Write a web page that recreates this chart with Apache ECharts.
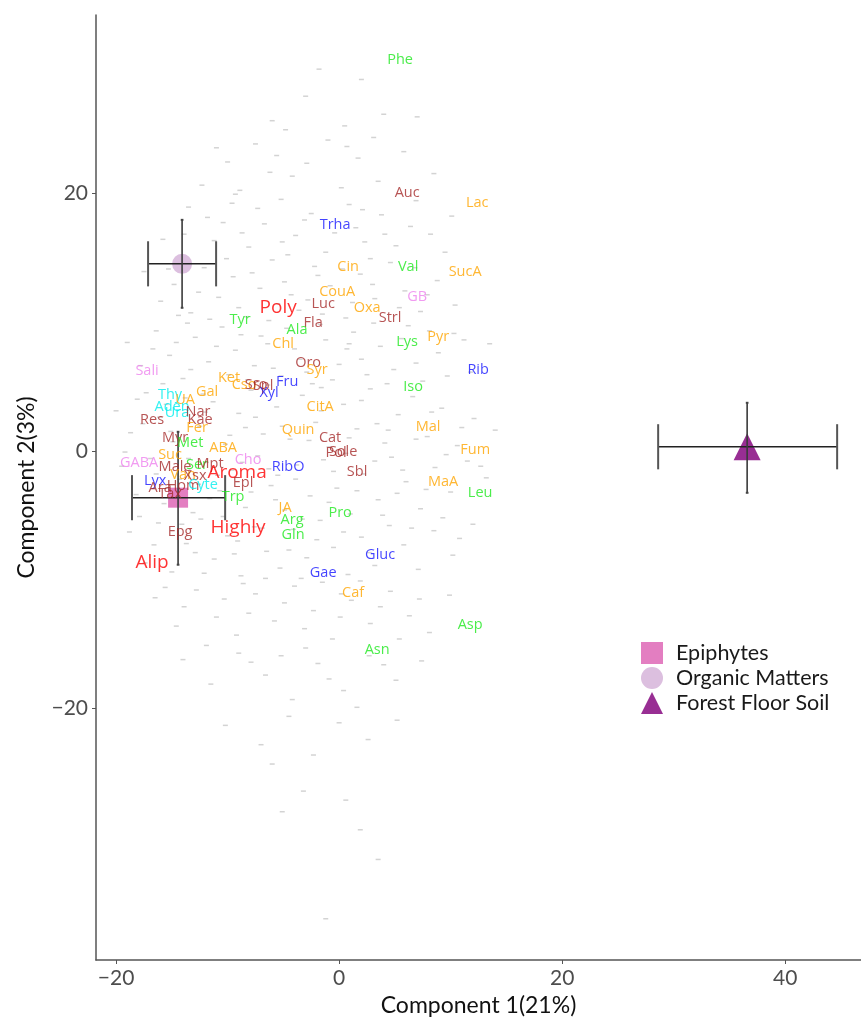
<!DOCTYPE html>
<html>
<head>
<meta charset="utf-8">
<script src="https://cdn.jsdelivr.net/npm/echarts@6/dist/echarts.min.js"></script>
<style>html,body{margin:0;padding:0;background:#fff}#c{width:861px;height:1017px}</style>
</head>
<body>
<div id="c"></div>
<script>
// ---- metabolite labels (loadings) ----
const metNames = ['Phe','Auc','Lac','Trha','Cin','Val','SucA','CouA','GB','Luc','Oxa','Poly','Strl','Tyr','Fla','Ala','Pyr','Lys','Chl','Oro','Syr','Sali','Rib','Ket','Cso','Sro','Spl','Fru','Xyl','Iso','Gal','Thy','UA','Aden','Ura','Nar','CitA','Res','Kae','Fer','Mal','Quin','Myr','Cat','Met','ABA','Fum','Pol','Sole','Suc','GABA','Cho','Ser','Mpt','Male','RibO','Aroma','Sbl','Van','Xsx','Lyx','Epl','MaA','Hom','Ara','Cyte','Tax','Leu','Trp','JA','Pro','Arg','Highly','Epg','Gln','Gluc','Alip','Gae','Caf','Asp','Asn'];
const metX = [5.47,6.10,12.38,-0.36,0.81,6.19,11.30,-0.18,7.00,-1.43,2.51,-5.47,4.57,-8.88,-2.33,-3.77,8.88,6.10,-5.02,-2.78,-1.97,-17.22,12.47,-9.87,-8.52,-7.44,-6.82,-4.66,-6.28,6.64,-11.84,-15.16,-13.81,-14.98,-14.53,-12.65,-1.70,-16.77,-12.47,-12.74,7.98,-3.68,-14.71,-0.81,-13.36,-10.40,12.20,-0.27,0.36,-15.16,-17.94,-8.16,-12.74,-11.57,-14.71,-4.57,-9.15,1.61,-13.99,-12.91,-16.50,-8.61,9.33,-13.99,-16.05,-12.20,-15.16,12.65,-9.51,-4.84,0.09,-4.22,-9.06,-14.26,-4.13,3.68,-16.77,-1.43,1.26,11.75,3.41];
const metY = [30.31,20.00,19.22,17.52,14.26,14.26,13.88,12.33,11.94,11.40,11.09,11.09,10.31,10.16,9.92,9.38,8.84,8.45,8.29,6.82,6.28,6.20,6.28,5.66,5.12,5.12,5.04,5.35,4.50,4.96,4.57,4.34,3.95,3.41,2.95,3.02,3.41,2.40,2.40,1.78,1.86,1.63,1.01,1.01,0.62,0.23,0.08,-0.16,-0.08,-0.31,-0.93,-0.70,-1.09,-1.01,-1.24,-1.24,-1.71,-1.63,-1.86,-1.94,-2.33,-2.48,-2.40,-2.71,-2.87,-2.64,-3.33,-3.26,-3.57,-4.42,-4.81,-5.35,-5.97,-6.28,-6.51,-8.06,-8.68,-9.46,-11.01,-13.49,-15.43];
const metClass = ['amino','phenol','acid','sugar','acid','amino','acid','acid','amine','phenol','acid','group','phenol','amino','phenol','amino','acid','amino','acid','phenol','acid','amine','sugar','acid','acid','phenol','phenol','sugar','sugar','amino','acid','base','acid','base','base','phenol','acid','phenol','phenol','acid','acid','acid','phenol','phenol','amino','acid','acid','phenol','phenol','acid','amine','amine','amino','phenol','phenol','sugar','group','phenol','acid','phenol','sugar','phenol','acid','phenol','phenol','base','phenol','amino','amino','acid','amino','amino','group','phenol','amino','sugar','group','sugar','acid','amino','amino'];

// ---- sample groups (scores, mean +/- spread) ----
const groupNames = ['Epiphytes','Organic Matters','Forest Floor Soil'];
const groupX   = [-14.44, -14.08, 36.59];
const groupY   = [-3.64, 14.50, 0.31];
const groupXLo = [-18.57, -17.13, 28.61];
const groupXHi = [-10.22, -11.03, 44.66];
const groupYLo = [-8.84, 11.09, -3.26];
const groupYHi = [1.47, 17.91, 3.72];

// ---- background cloud of variables ----
const cloud = [
[-3,27.5],[2,28.8],[-6,25.6],[4,26.1],[0.5,25.2],[-1.8,29.6],[7,25.9],
[-10,22.4],[-7.5,23.8],[-4.2,21.3],[-1,24.1],[1.7,22.7],[3.5,20.9],[-12.3,20.6],[5.8,23.2],[-8.9,20.2],[0.2,20.4],[-5.6,22.9],[8.5,21.5],
[-13.5,18.9],[-11.2,16.3],[-9.6,19.2],[-8.1,15.8],[-6.7,17.6],[-5.2,19.5],[-3.9,16.7],[-2.5,18.4],[-1.2,15.4],[0.9,19.1],[2.3,16.2],[3.8,18.3],[5.1,15.9],[6.4,17.4],[8.2,16.8],[-10.4,17.7],[-7.3,18.8],[-4.6,15.2],[1.5,17.3],[10.1,18.2],[-15.8,16.4],
[-17.5,13.9],[-16,11.6],[-14.8,12.9],[-13.3,10.7],[-12.1,14.2],[-10.8,11.9],[-9.5,13.5],[-8.3,10.4],[-7.1,12.6],[-6,14.8],[-4.9,13.1],[-3.6,10.9],[-2.2,14.3],[-0.8,12.8],[0.6,10.3],[1.9,13.7],[3.2,11.8],[4.6,14.6],[5.9,12.4],[7.3,10.8],[8.8,13.2],[10.4,11.3],[-11.6,10.2],[-5.5,11.4],[2.8,14.9],[-1.5,10.6],
[-19,8.4],[-17.8,6.6],[-16.4,9.3],[-15.2,7.4],[-14,5.6],[-12.9,8.8],[-11.7,6.9],[-10.5,9.6],[-9.3,7.8],[-8.2,5.5],[-7,8.9],[-5.9,6.4],[-4.7,9.5],[-3.5,7.1],[-2.4,5.2],[-1.2,8.6],[0,6.7],[1.3,9.2],[2.5,5.9],[3.7,8.1],[4.9,6.3],[6.2,9.7],[7.5,5.4],[8.9,7.6],[10.3,9.1],[11.8,6.1],[13.5,8.3],[-13.6,9.9],[-6.4,5.1],[0.7,7.9],
[-20,3.1],[-18.7,1.4],[-17.3,4.5],[-16.1,2.6],[-14.9,0.7],[-13.8,4.1],[-12.5,1.9],[-11.3,3.8],[-10.2,0.5],[-9,2.9],[-7.9,4.7],[-6.8,1.3],[-5.6,3.4],[-4.4,0.9],[-3.3,4.3],[-2.1,2.2],[-0.9,0.3],[0.4,3.6],[1.6,1.7],[2.8,4.8],[4.1,0.6],[5.3,2.8],[6.6,4.2],[7.9,1.1],[9.2,3.3],[10.6,0.4],[12.1,2.5],[14,1.6],[-8.4,1.8],[-1.6,4.9],[3.4,2.1],[-15.5,3.6],
[-19.5,-1.2],[-18.2,-3.4],[-16.9,-0.6],[-15.7,-4.1],[-14.3,-2.2],[-13.1,-4.8],[-11.9,-0.9],[-10.7,-3.1],[-9.6,-1.5],[-8.4,-4.4],[-7.3,-0.4],[-6.1,-2.7],[-4.9,-4.6],[-3.8,-1.1],[-2.6,-3.5],[-1.4,-0.7],[-0.2,-2.9],[1,-4.9],[2.2,-1.8],[3.5,-3.8],[4.7,-0.5],[6,-2.4],[7.3,-4.5],[8.6,-1.3],[10,-3.2],[11.5,-0.8],[13.2,-2.1],[-12.6,-2.6],[-5.5,-1.9],[0.6,-0.2],
[-18.8,-6.3],[-17.4,-8.7],[-16.2,-5.6],[-15,-9.4],[-13.7,-7.2],[-12.4,-5.3],[-11.2,-8.4],[-10,-6.6],[-8.8,-9.7],[-7.6,-5.9],[-6.5,-7.8],[-5.3,-9.1],[-4.1,-6.1],[-2.9,-8.3],[-1.7,-5.4],[-0.5,-7.5],[0.8,-9.6],[2,-6.7],[3.2,-8.9],[4.5,-5.8],[5.8,-7.3],[7.1,-9.2],[8.5,-6.2],[10.2,-8.1],[12,-5.7],[-9.4,-8],[-3.4,-9.9],
[-16.5,-11.4],[-14.6,-13.6],[-12.8,-10.8],[-11,-12.9],[-9.2,-14.3],[-7.5,-11.1],[-5.8,-13.2],[-4,-10.5],[-2.3,-12.4],[-0.6,-14.6],[1.1,-11.6],[2.8,-13.4],[4.6,-10.9],[6.3,-12.8],[8.1,-14.1],[9.9,-11.2],[-8.6,-10.3],[0.1,-12.9],
[-14,-16.2],[-11.5,-18.1],[-9,-15.7],[-6.6,-17.4],[-4.2,-19.3],[-1.9,-16.5],[0.4,-18.6],[2.7,-15.9],[5.1,-17.8],[7.4,-16.3],[-3,-15.3],
[-10.2,-21.3],[-7,-22.8],[-4.5,-20.6],[-2.3,-23.6],[0,-21.1],[2.6,-22.4],[5.2,-20.9],[-6,-24.3],
[-3.2,-26.4],[0.6,-27.1],[-5.1,-28],[1.9,-29.4],[-1.2,-36.3],[3.5,-31.7],
[-15.3,14.1],[-13.9,16.8],[-12.6,12.3],[-11.8,18.1],[-10.1,14.9],[-9.0,11.1],[-8.7,16.9],[-7.8,13.8],[-6.3,10.1],[-5.1,16.2],[-4.3,12.1],[-3.1,17.9],[-2.8,11.7],[-1.9,13.6],[-0.4,16.9],[0.3,14.1],[1.2,11.5],[2.1,18.7],[3.0,12.9],[4.1,16.8],[5.4,11.1],[6.8,14.2],[7.9,12.1],[9.5,15.4],[-14.4,10.5],
[-18.1,4.0],[-16.7,7.9],[-15.8,5.2],[-14.6,8.4],[-13.3,6.3],[-12.2,4.4],[-11.0,8.1],[-9.9,5.9],[-8.8,9.0],[-7.6,6.6],[-6.4,8.3],[-5.2,5.8],[-4.0,7.9],[-2.9,6.1],[-1.7,9.8],[-0.6,5.5],[0.9,8.3],[2.0,7.1],[3.1,9.9],[4.3,5.2],[5.6,8.7],[6.9,6.8],[8.1,9.3],[9.7,5.8],[11.2,8.6],
[-19.2,-0.1],[-17.6,2.1],[-16.4,-1.8],[-15.1,1.5],[-13.5,-0.6],[-12.0,3.0],[-10.9,-1.9],[-9.8,1.2],[-8.7,-0.9],[-7.5,2.6],[-6.3,-1.4],[-5.1,1.9],[-3.9,-2.2],[-2.7,0.8],[-1.6,3.1],[-0.5,-1.6],[0.9,1.0],[2.0,3.9],[3.2,-0.8],[4.4,1.6],[5.7,-1.5],[6.9,0.9],[8.3,3.0],[9.6,-0.3],[11.0,1.8],[12.7,-1.2],
[-17.9,-5.1],[-16.6,-7.3],[-15.4,-2.9],[-14.1,-5.7],[-12.9,-7.9],[-11.6,-3.7],[-10.4,-5.1],[-9.1,-7.0],[-7.9,-3.2],[-6.9,-6.0],[-5.7,-3.8],[-4.5,-7.7],[-3.3,-5.3],[-2.0,-6.9],[-0.9,-4.0],[0.4,-6.3],[1.6,-3.1],[2.7,-7.9],[3.9,-5.0],[5.2,-3.3],[6.5,-6.0],[7.8,-3.0],[9.3,-5.2],[10.8,-6.8],
[-15.6,-10.6],[-13.9,-12.1],[-12.1,-9.5],[-10.3,-11.5],[-8.1,-12.6],[-6.6,-9.9],[-4.9,-11.8],[-3.1,-13.8],[-1.5,-10.2],[0.2,-11.1],[1.9,-10.1],[3.7,-12.1],[5.4,-14.6],[7.2,-11.5],[-11.9,-15.1],[-7.9,-16.4],[-5.2,-15.9],[-0.9,-17.7],[1.6,-19.9],[4.0,-16.6],
[-9.3,19.9],[-6.2,21.6],[-2.9,22.3],[0.7,23.6],[3.1,24.3],[-4.8,24.9],[6.9,19.4],[-11.0,23.5]
];

const xTicks = [-20, 0, 20, 40];
const yTicks = [-20, 0, 20];

const FONT = 'Lato';
const LABEL_FONT = 'Open Sans';
const classColor = {amino:'#1ee81e', acid:'#ffa500', phenol:'#a52a2a', sugar:'#1414ff', amine:'#ee82ee', base:'#00eeee', group:'#ff0000'};
const groupStyle = [
  {symbol:'rect', size:20, color:'#e37ec1'},
  {symbol:'circle', size:20, color:'#dcbfdf'},
  {symbol:'triangle', size:27, color:'#982e93'}
];

const labelData = metNames.map((n,i)=>({
  name:n, value:[metX[i], metY[i]],
  label:{color:classColor[metClass[i]], fontSize: metClass[i]==='group'?19:14.5}
}));

const errData = groupNames.map((n,i)=>[groupX[i],groupY[i],groupXLo[i],groupXHi[i],groupYLo[i],groupYHi[i]]);

function renderErr(params, api){
  const x=api.value(0), y=api.value(1), xl=api.value(2), xh=api.value(3), yl=api.value(4), yh=api.value(5);
  const c=(a,b)=>api.coord([a,b]);
  const ln=(p,q,col,w)=>({type:'line',shape:{x1:p[0],y1:p[1],x2:q[0],y2:q[1]},style:{stroke:col,lineWidth:w}});
  const capH=1.75, capW=0.12;
  return {type:'group', children:[
    ln(c(xl,y),c(xh,y),'#222',1.4),
    ln(c(xl,y-capH),c(xl,y+capH),'#555',2),
    ln(c(xh,y-capH),c(xh,y+capH),'#555',2),
    ln(c(x,yl),c(x,yh),'#3a3a3a',1.6),
    ln(c(x-capW,yl),c(x+capW,yl),'#444',2),
    ln(c(x-capW,yh),c(x+capW,yh),'#444',2)
  ]};
}

const minus = v => String(v).replace('-', '\u2212');

const series = [
  {type:'scatter', name:'cloud', data:cloud, symbol:'rect', symbolSize:[5,1.5], itemStyle:{color:'#c8c8c8'}, silent:true, z:1}
];
groupNames.forEach((n,i)=>{
  series.push({type:'scatter', name:n, data:[[groupX[i],groupY[i]]], symbol:groupStyle[i].symbol, symbolSize:groupStyle[i].size, itemStyle:{color:groupStyle[i].color, opacity:1}, z:3});
});
series.push({type:'custom', name:'err', data:errData, renderItem:renderErr, z:4, silent:true});
series.push({type:'scatter', name:'labels', data:labelData, symbolSize:1, itemStyle:{color:'rgba(0,0,0,0)'},
  label:{show:true, position:'inside', formatter:'{b}', fontFamily:LABEL_FONT}, z:5, silent:true});

const chart = echarts.init(document.getElementById('c'), null, {renderer:'canvas'});
chart.setOption({
  animation:false,
  backgroundColor:'#fff',
  grid:{left:96, right:0, top:15, bottom:57, containLabel:false, outerBoundsMode:'none'},
  xAxis:{type:'value', min:-21.8, max:46.8,
    name:'Component 1(21%)', nameLocation:'middle', nameGap:31,
    nameTextStyle:{fontFamily:FONT, fontSize:23, color:'#111'},
    axisLine:{show:true, onZero:false, lineStyle:{color:'#555', width:1.5}},
    axisTick:{show:true, length:4, customValues:xTicks, lineStyle:{color:'#555'}},
    axisLabel:{customValues:xTicks, formatter:minus, fontFamily:FONT, fontSize:21, color:'#4d4d4d', margin:8},
    splitLine:{show:false}},
  yAxis:{type:'value', min:-39.5, max:33.8,
    name:'Component 2(3%)', nameLocation:'middle', nameGap:58, nameRotate:90,
    nameTextStyle:{fontFamily:FONT, fontSize:23, color:'#111'},
    axisLine:{show:true, onZero:false, lineStyle:{color:'#555', width:1.5}},
    axisTick:{show:true, length:4, customValues:yTicks, lineStyle:{color:'#555'}},
    axisLabel:{customValues:yTicks, formatter:minus, fontFamily:FONT, fontSize:21, color:'#4d4d4d', margin:8},
    splitLine:{show:false}},
  legend:{data:groupNames, orient:'vertical', left:636, top:637, itemWidth:22, itemHeight:22, itemGap:3,
    textStyle:{fontFamily:FONT, fontSize:21.5, lineHeight:22, color:'#1a1a1a', padding:[0,0,0,8]}},
  series:series
});
</script>
</body>
</html>
